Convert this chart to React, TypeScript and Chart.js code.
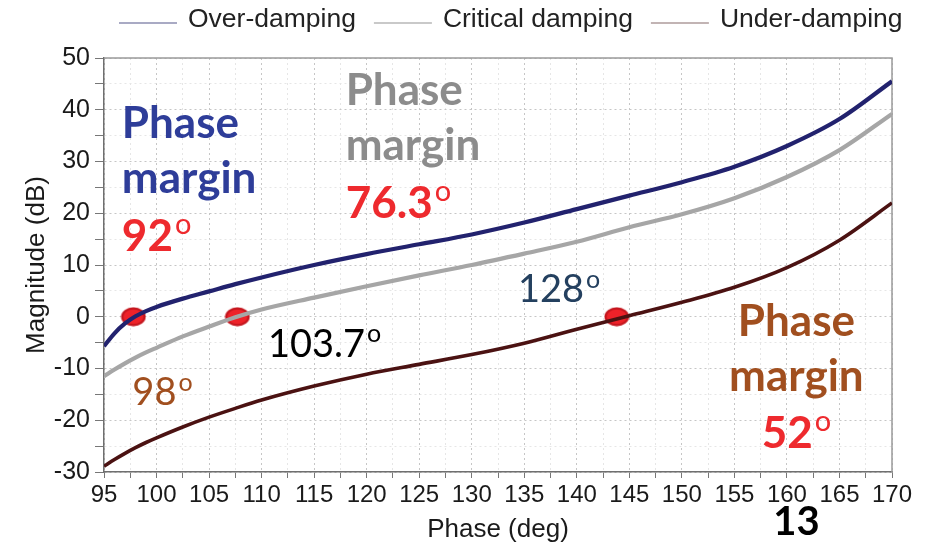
import React, { useEffect, useRef } from 'react';
import { Chart, registerables } from 'chart.js';

Chart.register(...registerables);

// ---------- data ----------
const phaseDeg = [95, 96, 97, 98, 99, 100, 102.5, 105, 107.5, 110, 115, 120, 125, 130, 135, 140, 145, 150, 155, 160, 165, 170];
const overDamping = [-5.7, -3.2, -1.3, 0.1, 1.1, 1.9, 3.5, 4.9, 6.3, 7.6, 10.0, 12.1, 14.0, 15.9, 18.2, 20.8, 23.4, 26.0, 29.0, 33.0, 38.2, 45.5];
const criticalDamping = [-11.5, -10.2, -9.0, -7.9, -6.9, -6.0, -3.8, -1.9, -0.1, 1.4, 3.7, 5.9, 8.0, 10.0, 12.2, 14.5, 17.3, 19.8, 22.9, 27.0, 32.2, 39.2];
const underDamping = [-28.9, -27.6, -26.4, -25.3, -24.3, -23.4, -21.3, -19.4, -17.7, -16.1, -13.4, -11.1, -9.2, -7.3, -5.1, -2.4, 0.2, 2.8, 5.7, 9.5, 14.8, 22.0];
const seriesLabels = ['Over-damping', 'Critical damping', 'Under-damping'];
const crossPhase = [97.8, 107.7, 143.8];
const crossMag = [0, 0, 0];
const xTickLabels = [95, 100, 105, 110, 115, 120, 125, 130, 135, 140, 145, 150, 155, 160, 165, 170];
const yTickLabels = [-30, -20, -10, 0, 10, 20, 30, 40, 50];

// ---------- styles ----------
const SANS = '"Liberation Sans", Arial, Helvetica, sans-serif';
const CAL = 'Lato, "Open Sans", sans-serif';
const lineColors = ['#22226e', '#a6a6a6', '#4b1212'];
const legendColors = ['#a9aac4', '#c9c9c9', '#c2b4b4'];
const BLUE = '#2e3d99';
const GRAY = '#8c8c8c';
const BROWN = '#a14f1f';
const RED = '#ee2a2e';

type Note = { text: string; sup?: string; x: number; y: number; color: string; bold: boolean; size: number; align?: 'left' | 'center' };

const notes: Note[] = [
  { text: 'Phase', x: 96.7, y: 34.6, color: BLUE, bold: true, size: 44 },
  { text: 'margin', x: 96.7, y: 23.9, color: BLUE, bold: true, size: 44 },
  { text: '92', sup: 'o', x: 96.7, y: 12.8, color: RED, bold: true, size: 44 },
  { text: 'Phase', x: 118, y: 40.9, color: GRAY, bold: true, size: 44 },
  { text: 'margin', x: 118, y: 30.3, color: GRAY, bold: true, size: 44 },
  { text: '76.3', sup: 'o', x: 118, y: 19.1, color: RED, bold: true, size: 44 },
  { text: 'Phase', x: 160.9, y: -3.7, color: BROWN, bold: true, size: 44, align: 'center' },
  { text: 'margin', x: 160.9, y: -14.4, color: BROWN, bold: true, size: 44, align: 'center' },
  { text: '52', sup: 'o', x: 160.9, y: -25.4, color: RED, bold: true, size: 44, align: 'center' },
  { text: '103.7', sup: 'o', x: 110.6, y: -7.7, color: '#000000', bold: false, size: 38 },
  { text: '98', sup: 'o', x: 97.7, y: -17.1, color: BROWN, bold: false, size: 38 },
  { text: '128', sup: 'o', x: 134.4, y: 2.85, color: '#24405f', bold: false, size: 38 },
  { text: '13', x: 158.7, y: -42.2, color: '#000000', bold: true, size: 40 },
];

function makeDot(): HTMLCanvasElement {
  const c = document.createElement('canvas');
  c.width = 26;
  c.height = 20;
  const g = c.getContext('2d')!;
  g.beginPath();
  g.ellipse(13, 10, 11.2, 8.3, 0, 0, Math.PI * 2);
  g.fillStyle = '#ee2229';
  g.fill();
  g.lineWidth = 2.2;
  g.strokeStyle = '#c4161e';
  g.stroke();
  return c;
}

const framePlugin = {
  id: 'frame',
  beforeDatasetsDraw(chart: any) {
    const { ctx, chartArea: a } = chart;
    ctx.save();
    ctx.strokeStyle = '#9a9a9a';
    ctx.lineWidth = 1.5;
    ctx.beginPath();
    ctx.moveTo(a.left, a.top);
    ctx.lineTo(a.right, a.top);
    ctx.lineTo(a.right, a.bottom);
    ctx.stroke();
    ctx.restore();
  },
};

const legendPlugin = {
  id: 'lineLegend',
  afterDraw(chart: any) {
    const ctx = chart.ctx;
    ctx.save();
    ctx.font = `26.5px ${SANS}`;
    ctx.textBaseline = 'middle';
    ctx.textAlign = 'left';
    let x = 119;
    const y = 20;
    seriesLabels.forEach((label, i) => {
      ctx.strokeStyle = legendColors[i];
      ctx.lineWidth = 2;
      ctx.beginPath();
      ctx.moveTo(x, y + 3);
      ctx.lineTo(x + 58, y + 3);
      ctx.stroke();
      x += 58 + 11;
      ctx.fillStyle = '#222222';
      ctx.fillText(label, x, y);
      x += ctx.measureText(label).width + 18;
    });
    ctx.restore();
  },
};

const notesPlugin = {
  id: 'notes',
  afterDraw(chart: any) {
    const ctx = chart.ctx;
    const xs = chart.scales.x;
    const ys = chart.scales.y;
    ctx.save();
    ctx.textBaseline = 'alphabetic';
    ctx.textAlign = 'left';
    notes.forEach((n) => {
      const w = n.bold ? 'bold ' : '';
      const mainFont = `${w}${n.size}px ${CAL}`;
      const supSize = Math.round(n.size * 0.66);
      const supFont = `${supSize}px ${CAL}`;
      ctx.font = mainFont;
      const mw = ctx.measureText(n.text).width;
      let sw = 0;
      if (n.sup) {
        ctx.font = supFont;
        sw = ctx.measureText(n.sup).width + 2;
      }
      let px = xs.getPixelForValue(n.x);
      const py = ys.getPixelForValue(n.y);
      if (n.align === 'center') px -= (mw + sw) / 2;
      ctx.fillStyle = n.color;
      ctx.font = mainFont;
      ctx.fillText(n.text, px, py);
      if (n.sup) {
        ctx.font = supFont;
        ctx.fillText(n.sup, px + mw + 2, py - n.size * 0.38);
      }
    });
    ctx.restore();
  },
};

export default function App() {
  const ref = useRef<HTMLCanvasElement | null>(null);

  useEffect(() => {
    if (!ref.current) return;
    const toPts = (ys: number[]) => phaseDeg.map((x, i) => ({ x, y: ys[i] }));
    const series = [overDamping, criticalDamping, underDamping];
    const chart = new Chart(ref.current, {
      type: 'line',
      data: {
        datasets: [
          ...series.map((s, i) => ({
            label: seriesLabels[i],
            data: toPts(s),
            borderColor: lineColors[i],
            backgroundColor: lineColors[i],
            borderWidth: i === 2 ? 3.6 : 4.2,
            pointRadius: 0,
            cubicInterpolationMode: 'monotone' as const,
            fill: false,
          })),
          {
            label: 'crossings',
            data: crossPhase.map((x, i) => ({ x, y: crossMag[i] })),
            showLine: false,
            pointStyle: makeDot(),
            pointRadius: 10,
            borderWidth: 0,
          } as any,
        ],
      },
      options: {
        responsive: false,
        animation: false,
        layout: { padding: { top: 58, left: 0, right: 0, bottom: 0 } },
        plugins: {
          legend: { display: false },
          tooltip: { enabled: false },
        },
        scales: {
          x: {
            type: 'linear',
            min: 95,
            max: 170,
            ticks: {
              stepSize: 2.5,
              autoSkip: false,
              maxRotation: 0,
              padding: 3,
              color: '#1a1a1a',
              font: { family: SANS, size: 24 },
              callback: (v: any) => (xTickLabels.includes(Number(v)) ? String(v) : ''),
            },
            grid: {
              color: (c: any) => (c.tick && Number(c.tick.value) % 5 === 0 ? '#c6c6c6' : '#e6e6e6'),
              lineWidth: 1,
              tickLength: 6,
              tickColor: '#777777',
            },
            border: { color: '#6f6f6f', width: 1.5, dash: [2, 3] },
            title: {
              display: true,
              text: 'Phase (deg)',
              color: '#1a1a1a',
              font: { family: SANS, size: 26 },
              padding: { top: 0, bottom: 2 },
            },
            afterFit: (s: any) => {
              s.height = 75;
            },
          },
          y: {
            type: 'linear',
            min: -30,
            max: 50,
            ticks: {
              stepSize: 5,
              autoSkip: false,
              padding: 5,
              color: '#1a1a1a',
              font: { family: SANS, size: 25 },
              callback: (v: any) => (yTickLabels.includes(Number(v)) ? String(v) : ''),
            },
            grid: {
              color: (c: any) => (c.tick && Number(c.tick.value) % 10 === 0 ? '#c6c6c6' : '#e6e6e6'),
              lineWidth: 1,
              tickLength: 9,
              tickColor: '#777777',
            },
            border: { color: '#6f6f6f', width: 1.5, dash: [2, 3] },
            title: {
              display: true,
              text: 'Magnitude (dB)',
              color: '#1a1a1a',
              font: { family: SANS, size: 26 },
              padding: { top: 21, bottom: 0 },
            },
            afterFit: (s: any) => {
              s.width = 104;
            },
          },
          yPad: {
            type: 'linear',
            position: 'right',
            display: true,
            grid: { display: false },
            border: { display: false },
            ticks: { display: false },
            afterFit: (s: any) => {
              s.width = 41;
            },
          },
        },
      },
      plugins: [framePlugin, legendPlugin, notesPlugin],
    } as any);
    return () => chart.destroy();
  }, []);

  return (
    <div style={{ position: 'fixed', left: 0, top: 0, width: 933, height: 547, background: '#ffffff' }}>
      <canvas ref={ref} width={933} height={547} style={{ display: 'block' }} />
    </div>
  );
}
